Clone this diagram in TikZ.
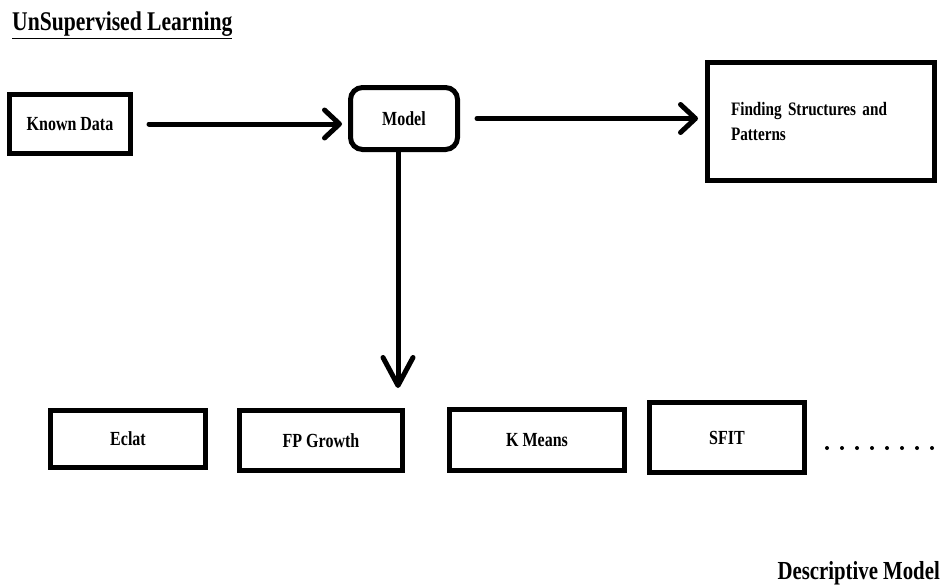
\documentclass[tikz,border=0pt]{standalone}
\usepackage{fontspec}
\setmainfont{Liberation Serif}
\newfontfamily\narrowserif[FakeStretch=0.8]{Liberation Serif}
\usetikzlibrary{arrows.meta}

\begin{document}
\begin{tikzpicture}[x=1pt, y=-1pt,
                    ulbox/.style={draw=black, line width=5pt, align=center, inner sep=2pt,
                                  font=\narrowserif\fontsize{20}{24}\selectfont\bfseries},
                    arr/.style={-{Straight Barb[length=15pt, width=28pt, round]},
                                line width=5pt, line cap=round},
                    dotrow/.style={line width=4pt, line cap=round, dash pattern=on 0pt off 15pt}
                ]
                    \useasboundingbox (0,0) rectangle (941,586);
                    % title and caption
                    \node[anchor=base west, inner sep=0pt, font=\narrowserif\fontsize{27}{30}\selectfont\bfseries] (title) at (12,31) {\underline{UnSupervised Learning}};
                    \node[anchor=base east, inner sep=0pt, font=\narrowserif\fontsize{26}{30}\selectfont\bfseries] (caption) at (940,579) {Descriptive Model};
                    % top row
                    \node[ulbox, minimum width=121pt, minimum height=59pt] (kd) at (70,124) {Known Data};
                    \node[ulbox, minimum width=107pt, minimum height=62pt, rounded corners=12pt] (model) at (404,118.5) {Model};
                    \node[ulbox, minimum width=227pt, minimum height=118pt, align=left, text width=180pt,
                          font=\narrowserif\fontsize{19}{25}\selectfont\bfseries] (find) at (821,121.5) {Finding Structures and\\Patterns};
                    % algorithms
                    \node[ulbox, minimum width=155pt, minimum height=57pt] (eclat) at (128,439) {Eclat};
                    \node[ulbox, minimum width=163pt, minimum height=60pt] (fpg) at (321,440.5) {FP Growth};
                    \node[ulbox, minimum width=175pt, minimum height=61pt] (kmeans) at (537,440) {K Means};
                    \node[ulbox, minimum width=155pt, minimum height=70pt] (sfit) at (727,437.5) {SFIT};
                    \coordinate (dotsL) at (827,448);
                    \coordinate (dotsR) at (934,448);
                    \draw[dotrow] (dotsL) -- (dotsR);
                    % arrows
                    \coordinate (mtip) at (398,388);
                    \draw[arr, shorten <=16pt, shorten >=6pt] (kd.east) -- (kd.east -| model.west);
                    \draw[arr, shorten <=17pt, shorten >=7pt] (model.east) -- (model.east -| find.west);
                    \draw[arr, -{Straight Barb[length=28pt, width=30pt, round]}] (model.south -| mtip) -- (mtip);
                \end{tikzpicture}
\end{document}
